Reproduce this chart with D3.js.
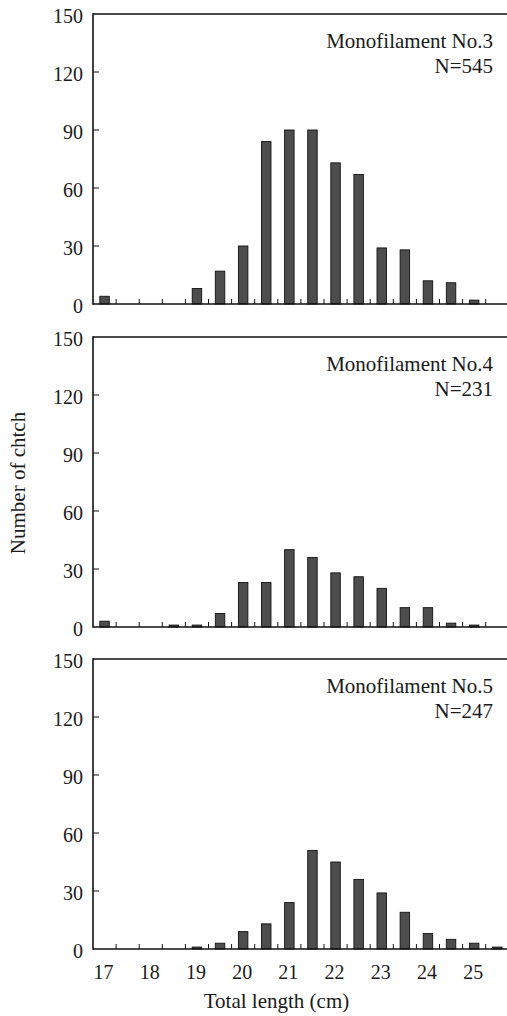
<!DOCTYPE html>
<html>
<head>
<meta charset="utf-8">
<script src="https://cdn.jsdelivr.net/npm/d3@7"></script>
<style>
  html, body { margin: 0; padding: 0; background: #fff; }
  svg { display: block; }
</style>
</head>
<body>
<svg id="chart" width="507" height="1016"></svg>
<script>
// ---- data ----
const categories = ["17","17.5","18","18.5","19","19.5","20","20.5","21","21.5","22","22.5","23","23.5","24","24.5","25","25.5"];
const mono3 = [4,0,0,0,8,17,30,84,90,90,73,67,29,28,12,11,2,0];
const mono4 = [3,0,0,1,1,7,23,23,40,36,28,26,20,10,10,2,1,0];
const mono5 = [0,0,0,0,1,3,9,13,24,51,45,36,29,19,8,5,3,1];
const panelNames = ["Monofilament No.3","Monofilament No.4","Monofilament No.5"];
const panelN = ["N=545","N=231","N=247"];
const yTicks = [0,30,60,90,120,150];
const xTickLabels = ["17","18","19","20","21","22","23","24","25"];
const yTitle = "Number of chtch";
const xTitle = "Total length (cm)";

const series = [mono3, mono4, mono5];

const FONT = "'Liberation Serif', 'Times New Roman', serif";
const svg = d3.select("#chart");
const W = 507;
const left = 93;
const step = 23.1;
const panelTops = [14, 337, 659];
const panelH = 290;
const txt = "#1a1a1a";

function T(sel) { return sel.style("font-family", FONT).attr("fill", txt); }

const x = d3.scaleBand().domain(categories).range([left, left + step * categories.length]).padding(0);
const barFrac = 0.41;
const bw = x.bandwidth() * barFrac;

series.forEach((vals, pi) => {
  const top = panelTops[pi];
  const base = top + panelH;
  const y = d3.scaleLinear().domain([0, 150]).range([base, top]);
  const g = svg.append("g");

  // bars
  g.selectAll("rect.bar").data(vals).enter().append("rect")
    .attr("class", "bar")
    .attr("x", (d, i) => x(categories[i]) + (x.bandwidth() - bw) / 2)
    .attr("y", d => y(d))
    .attr("width", bw)
    .attr("height", d => y(0) - y(d))
    .attr("fill", "#4d4d4d")
    .attr("stroke", "#111")
    .attr("stroke-width", 0.9);

  // x ticks at band boundaries (inside, upward)
  g.selectAll("line.xt").data(categories.slice(1)).enter().append("line")
    .attr("x1", d => x(d)).attr("x2", d => x(d))
    .attr("y1", y(0)).attr("y2", y(0) - 5)
    .attr("stroke", "#111").attr("stroke-width", 1);

  // y ticks (inside, rightward)
  g.selectAll("line.yt").data(yTicks.slice(1, -1)).enter().append("line")
    .attr("x1", left).attr("x2", left + 6)
    .attr("y1", d => y(d)).attr("y2", d => y(d))
    .attr("stroke", "#111").attr("stroke-width", 1);

  // y tick labels
  T(g.selectAll("text.yl").data(yTicks).enter().append("text")
    .attr("x", left - 10)
    .attr("y", d => y(d) + 1.5)
    .attr("dy", "0.35em")
    .attr("text-anchor", "end")
    .attr("font-size", 20)
    .text(d => d));

  // axes lines
  g.append("line").attr("x1", left).attr("x2", W).attr("y1", y(0)).attr("y2", y(0))
    .attr("stroke", "#111").attr("stroke-width", 1.6);
  g.append("line").attr("x1", left).attr("x2", W).attr("y1", y(150)).attr("y2", y(150))
    .attr("stroke", "#111").attr("stroke-width", 1.6);
  g.append("line").attr("x1", left).attr("x2", left).attr("y1", y(150) - 0.8).attr("y2", y(0) + 0.8)
    .attr("stroke", "#111").attr("stroke-width", 1.6);

  // panel labels
  T(g.append("text").attr("x", 493).attr("y", top + 34).attr("text-anchor", "end")
    .attr("font-size", 21).text(panelNames[pi]));
  T(g.append("text").attr("x", 493).attr("y", top + 59).attr("text-anchor", "end")
    .attr("font-size", 21).text(panelN[pi]));

  // x tick labels only on bottom panel
  if (pi === series.length - 1) {
    T(g.selectAll("text.xl").data(xTickLabels).enter().append("text")
      .attr("x", d => x(d) + x.bandwidth() / 2 - 1)
      .attr("y", base + 30)
      .attr("text-anchor", "middle")
      .attr("font-size", 20)
      .text(d => d));
  }
});

// axis titles
T(svg.append("text")
  .attr("transform", "translate(25,483) rotate(-90)")
  .attr("text-anchor", "middle")
  .attr("font-size", 21)
  .text(yTitle));

T(svg.append("text")
  .attr("x", 276.5).attr("y", 1008)
  .attr("text-anchor", "middle")
  .attr("font-size", 21)
  .text(xTitle));
</script>
</body>
</html>
